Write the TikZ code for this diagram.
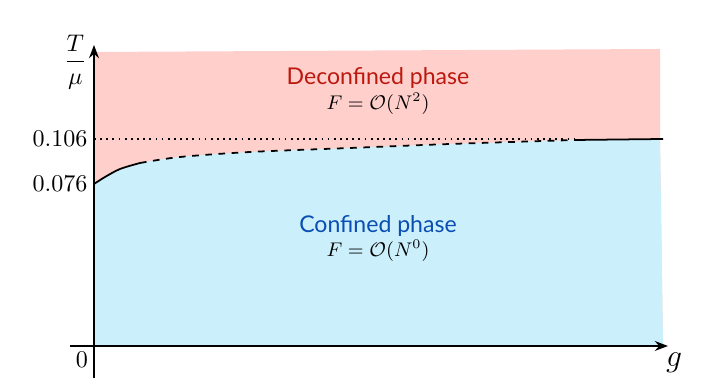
\documentclass[tikz,border=0pt]{standalone}
\usepackage{amsmath, amssymb}
\usepackage{fontspec}
\usepackage{tikz}
\usetikzlibrary{arrows.meta, positioning, calc}
\newfontfamily\phasefont{Lato}
\definecolor{decred}{HTML}{BC180E}
\definecolor{conblue}{HTML}{0A4DB4}
\definecolor{decfill}{HTML}{FFCFCC}
\definecolor{confill}{HTML}{CCF0FB}
\tikzset{
    phase/.style={font=\phasefont\fontsize{10.5}{12}\selectfont},
    freeen/.style={font=\small},
    ticklab/.style={font=\fontsize{11}{13}\selectfont},
    axis/.style={-{Stealth[length=6pt]}, thick},
}

\begin{document}
\begin{tikzpicture}
    \useasboundingbox (-1.504, -0.672) rectangle (10.016, 5.536);
    % regions
    \fill[decfill] (0, 0) -- (0, 4.704) -- (9.056, 4.752) -- (9.056, 3.312) -- (9.104, 0) -- cycle;
    \fill[confill] (0, 0)
        -- plot[smooth] coordinates {(0, 2.592) (0.176, 2.704) (0.416, 2.832) (0.736, 2.928) (1.376, 3.024) (2.496, 3.104) (4.096, 3.168) (5.696, 3.232) (7.696, 3.296)}
        -- (9.056, 3.312) -- (9.104, 0) -- cycle;

    % transition line
    \draw[thick, dotted] (0, 3.312) -- (7.696, 3.312);
    \draw[thick] plot[smooth] coordinates {(0, 2.592) (0.176, 2.704) (0.416, 2.832) (0.736, 2.928)};
    \draw[thick, dashed] plot[smooth] coordinates {(0.736, 2.928) (1.376, 3.024) (2.496, 3.104) (4.096, 3.168) (5.696, 3.232) (7.696, 3.296)};
    \draw[thick] (7.696, 3.296) -- (9.104, 3.312);

    % axes
    \coordinate (xstart) at (-0.384, 0);
    \coordinate (xend) at (9.184, 0);
    \coordinate (ystart) at (0, -0.512);
    \coordinate (yend) at (0, 4.816);
    \draw[axis] (xstart) -- (xend);
    \draw[axis] (ystart) -- (yend);

    \node[ticklab] (tmu) at (-0.3, 4.544) {$\dfrac{T}{\mu}$};
    \node[ticklab, anchor=east] (hi) at (0.02, 3.312) {$0.106$};
    \node[ticklab, anchor=east] (lo) at (0.02, 2.592) {$0.076$};
    \node[ticklab] (zero) at (-0.192, -0.224) {$0$};
    \node (glab) at (9.28, -0.27) {\Large $g$};

    % phases
    \node[phase, text=decred] (dec) at (4.544, 4.288) {Deconfined phase};
    \node[freeen] (decF) at (4.544, 3.872) {$F=\mathcal{O}(N^2)$};
    \node[phase, text=conblue] (con) at (4.544, 1.92) {Confined phase};
    \node[freeen] (conF) at (4.544, 1.52) {$F=\mathcal{O}(N^0)$};
\end{tikzpicture}
\end{document}
